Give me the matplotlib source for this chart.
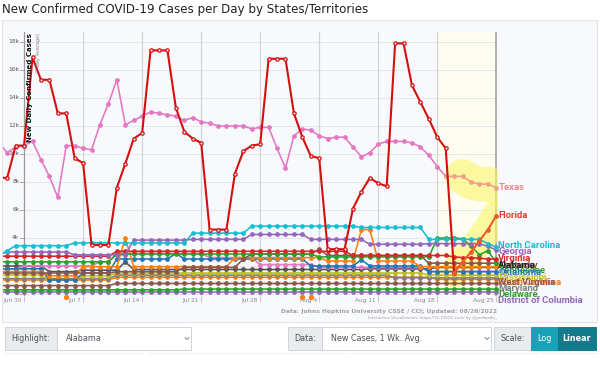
import pandas as pd
import matplotlib
matplotlib.use("Agg")
import matplotlib.pyplot as plt
import matplotlib.dates as mdates
from matplotlib.patches import Rectangle

# daily values, thousands of cases, Jun 27 .. Aug 25 2022
dates = pd.date_range("2022-06-27", "2022-08-25", freq="D")

texas = [10.8, 10.1, 10.5, 10.6, 10.9, 9.6, 8.4, 6.9, 10.6, 10.6,
         10.4, 10.3, 12.1, 13.6, 15.3, 12.1, 12.4, 12.7, 13.0, 12.9,
         12.8, 12.7, 12.4, 12.6, 12.3, 12.2, 12.0, 12.0, 12.0, 12.0,
         11.8, 11.9, 11.9, 10.4, 9.0, 11.3, 11.8, 11.7, 11.3, 11.1,
         11.2, 11.2, 10.5, 9.8, 10.1, 10.7, 10.9, 10.9, 10.9, 10.8,
         10.5, 9.9, 9.1, 8.4, 8.4, 8.4, 8.0, 7.85, 7.85, 7.6]
florida = [8.3, 8.3, 10.6, 10.6, 16.9, 15.3, 15.3, 12.9, 12.9, 9.7,
           9.35, 3.5, 3.5, 3.5, 7.6, 9.3, 11.1, 11.5, 17.4, 17.4,
           17.4, 13.3, 11.6, 11.1, 10.8, 4.6, 4.6, 4.6, 8.6, 10.2,
           10.6, 10.7, 16.8, 16.8, 16.8, 12.9, 11.2, 9.85, 9.7, 3.2,
           3.2, 3.2, 6.1, 7.3, 8.3, 7.9, 7.7, 17.9, 17.9, 14.9,
           13.7, 12.5, 11.2, 10.4, 1.5, 2.3, 3.0, 3.8, 4.6, 5.6]
north_carolina = [2.7, 3.1, 3.45, 3.45, 3.45, 3.45, 3.45, 3.45, 3.45, 3.65,
                  3.65, 3.65, 3.65, 3.65, 3.65, 3.65, 3.65, 3.65, 3.65, 3.65,
                  3.65, 3.65, 3.65, 4.35, 4.35, 4.35, 4.35, 4.35, 4.35, 4.35,
                  4.85, 4.85, 4.85, 4.85, 4.85, 4.85, 4.85, 4.85, 4.85, 4.85,
                  4.85, 4.85, 4.85, 4.75, 4.75, 4.75, 4.75, 4.75, 4.75, 4.75,
                  4.75, 3.9, 3.9, 3.9, 3.9, 3.9, 3.9, 3.9, 3.6, 3.35]
georgia = [2.9, 3.0, 3.0, 3.0, 3.0, 3.0, 3.0, 3.0, 3.0, 2.8,
           2.8, 2.8, 2.8, 2.8, 2.8, 2.8, 3.85, 3.85, 3.85, 3.85,
           3.85, 3.85, 3.85, 3.9, 3.9, 3.9, 3.9, 3.9, 3.9, 3.9,
           4.25, 4.25, 4.25, 4.25, 4.25, 4.25, 4.25, 3.9, 3.9, 3.9,
           3.9, 3.9, 3.9, 3.9, 3.55, 3.55, 3.55, 3.55, 3.55, 3.55,
           3.55, 3.6, 3.6, 3.6, 3.6, 3.6, 3.6, 3.6, 3.4, 3.15]
virginia = [2.7, 2.7, 2.7, 2.7, 2.7, 2.7, 2.7, 2.7, 2.7, 2.7,
            2.7, 2.7, 2.7, 2.7, 3.05, 3.05, 3.05, 3.05, 3.05, 3.05,
            3.05, 3.05, 3.05, 3.05, 3.05, 3.05, 3.05, 3.05, 3.05, 3.05,
            3.05, 3.05, 3.05, 3.05, 3.05, 3.05, 3.05, 3.05, 3.05, 3.05,
            3.05, 3.05, 2.75, 2.75, 2.75, 2.75, 2.75, 2.75, 2.75, 2.75,
            2.75, 2.75, 2.75, 2.75, 2.65, 2.6, 2.6, 2.55, 2.5, 2.5]
tennessee = [2.3, 2.3, 2.3, 2.3, 2.3, 2.3, 2.3, 2.3, 2.3, 2.3,
             2.3, 2.3, 2.3, 2.3, 2.85, 2.85, 2.85, 2.85, 2.85, 2.85,
             2.85, 2.85, 2.85, 2.85, 2.85, 2.85, 2.85, 2.85, 2.85, 2.85,
             2.85, 2.85, 2.85, 2.85, 2.85, 2.85, 2.85, 2.85, 2.65, 2.65,
             2.65, 2.65, 2.65, 2.65, 2.65, 2.65, 2.65, 2.65, 2.65, 2.65,
             2.65, 2.65, 4.0, 4.0, 4.0, 3.95, 3.4, 2.8, 3.1, 2.2]
kentucky = [1.5, 1.5, 1.5, 1.5, 1.5, 1.5, 1.5, 1.5, 1.5, 1.5,
            1.5, 1.5, 1.5, 1.5, 1.6, 1.6, 1.6, 1.6, 1.6, 1.6,
            1.6, 1.6, 1.9, 1.9, 1.9, 1.9, 1.9, 1.9, 1.9, 2.5,
            2.85, 2.85, 2.85, 2.85, 2.85, 2.85, 2.85, 2.85, 3.2, 2.75,
            2.75, 2.75, 2.75, 2.75, 2.75, 2.75, 2.75, 2.75, 2.75, 2.75,
            2.75, 2.2, 2.2, 2.2, 2.2, 2.2, 2.2, 2.2, 2.2, 2.2]
alabama = [2.0, 2.0, 2.0, 2.0, 2.0, 2.0, 1.6, 1.6, 1.6, 1.6,
           1.7, 1.7, 1.7, 1.7, 1.7, 2.3, 1.75, 1.75, 1.75, 1.75,
           1.75, 1.75, 1.75, 1.75, 1.75, 1.75, 1.75, 1.75, 1.75, 1.75,
           1.75, 1.75, 1.75, 1.75, 1.75, 1.75, 1.75, 1.75, 1.75, 1.75,
           1.75, 1.75, 1.75, 1.75, 1.8, 1.8, 1.8, 1.8, 1.8, 1.8,
           1.8, 1.8, 1.9, 1.9, 1.9, 1.9, 1.9, 1.9, 1.9, 1.9]
oklahoma = [1.8, 1.8, 1.8, 1.8, 1.8, 1.8, 1.0, 1.0, 1.0, 1.0,
            1.5, 1.5, 1.5, 1.5, 2.5, 2.5, 2.5, 2.5, 2.5, 2.5,
            2.5, 2.9, 2.5, 2.5, 2.5, 2.5, 2.5, 2.5, 2.5, 2.5,
            2.5, 2.5, 2.5, 2.5, 2.5, 2.5, 2.5, 2.0, 2.0, 2.0,
            2.0, 2.0, 2.0, 2.45, 2.0, 2.0, 2.0, 2.0, 2.0, 2.0,
            2.0, 1.6, 1.6, 1.6, 1.6, 1.6, 1.6, 1.6, 1.6, 1.6]
louisiana = [1.8, 1.8, 1.8, 2.0, 2.0, 2.0, 2.0, 2.0, 2.0, 2.0,
             2.0, 2.0, 2.3, 2.3, 2.9, 2.9, 2.9, 2.9, 2.9, 2.9,
             2.9, 2.9, 2.9, 2.9, 2.9, 2.6, 2.6, 2.6, 2.6, 2.6,
             2.6, 2.1, 2.1, 2.1, 2.1, 2.1, 2.1, 2.1, 1.9, 1.9,
             1.9, 1.9, 1.9, 1.9, 1.9, 1.9, 1.9, 1.9, 1.9, 1.9,
             1.9, 1.6, 1.6, 1.6, 1.6, 1.6, 1.6, 1.6, 1.6, 1.6]
south_carolina = [1.6, 1.6, 1.6, 1.6, 1.6, 1.6, 1.3, 1.3, 1.3, 1.3,
                  1.95, 1.95, 1.95, 1.95, 1.95, 4.0, 1.95, 1.95, 1.95, 1.95,
                  1.95, 1.95, 1.95, 1.95, 1.95, 1.95, 1.95, 1.95, 2.6, 2.6,
                  2.6, 2.6, 2.6, 2.6, 2.6, 2.6, 2.6, 2.6, 2.6, 2.35,
                  2.35, 2.35, 2.35, 4.6, 4.6, 2.35, 2.35, 2.35, 2.35, 2.35,
                  1.95, 1.95, 1.95, 1.95, 1.95, 1.95, 1.95, 1.95, 1.95, 1.95]
arkansas = [1.0, 1.0, 1.0, 1.0, 1.0, 1.0, 1.0, 1.0, 1.0, 1.0,
            1.0, 1.0, 1.0, 1.0, 1.2, 1.2, 1.2, 1.2, 1.2, 1.2,
            1.2, 1.2, 1.2, 1.2, 1.2, 1.2, 1.2, 1.2, 1.2, 1.2,
            1.2, 1.2, 1.2, 1.2, 1.2, 1.2, 1.2, 1.2, 1.2, 1.2,
            1.2, 1.2, 1.2, 1.2, 1.2, 1.2, 1.2, 1.2, 1.2, 1.2,
            1.2, 1.2, 1.05, 1.05, 1.05, 1.05, 1.05, 1.05, 1.05, 1.05]
mississippi = [1.35, 1.35, 1.35, 1.35, 1.35, 1.35, 1.0, 1.0, 1.0, 1.0,
               1.3, 1.3, 1.3, 1.3, 1.5, 1.5, 1.5, 1.5, 1.5, 1.5,
               1.5, 1.5, 1.5, 1.5, 1.5, 1.5, 1.5, 1.5, 1.5, 1.5,
               1.5, 1.5, 1.5, 1.5, 1.5, 1.5, 1.5, 1.5, 1.5, 1.5,
               1.5, 1.5, 1.5, 1.5, 1.5, 1.5, 1.5, 1.5, 1.5, 1.5,
               1.5, 1.35, 1.35, 1.35, 1.35, 1.35, 1.35, 1.35, 1.35, 1.35]
maryland = [1.1, 1.1, 1.1, 1.1, 1.1, 1.1, 1.1, 1.1, 1.1, 1.1,
            1.1, 1.1, 1.1, 1.1, 1.35, 1.35, 1.35, 1.35, 1.35, 1.35,
            1.35, 1.35, 1.35, 1.35, 1.35, 1.35, 1.35, 1.35, 1.35, 1.35,
            1.35, 1.35, 1.35, 1.35, 1.35, 1.35, 1.35, 1.35, 1.35, 1.35,
            1.35, 1.35, 1.35, 1.35, 1.35, 1.35, 1.35, 1.15, 1.15, 1.15,
            1.15, 1.15, 1.15, 1.15, 1.15, 1.15, 1.15, 1.15, 1.15, 1.15]
west_virginia = [0.6, 0.6, 0.6, 0.6, 0.6, 0.6, 0.6, 0.6, 0.6, 0.6,
                 0.6, 0.6, 0.6, 0.6, 0.75, 0.75, 0.75, 0.75, 0.75, 0.75,
                 0.75, 0.75, 0.75, 0.75, 0.75, 0.75, 0.75, 0.75, 0.75, 0.75,
                 0.75, 0.75, 0.75, 0.75, 0.75, 0.75, 0.75, 0.75, 0.75, 0.75,
                 0.75, 0.75, 0.75, 0.75, 0.75, 0.75, 0.75, 0.75, 0.75, 0.75,
                 0.75, 0.75, 0.75, 0.75, 0.75, 0.75, 0.75, 0.75, 0.75, 0.75]
delaware = [0.3, 0.3, 0.3, 0.3, 0.3, 0.3, 0.3, 0.3, 0.3, 0.3,
            0.3, 0.3, 0.3, 0.3, 0.3, 0.3, 0.3, 0.3, 0.3, 0.3,
            0.3, 0.3, 0.35, 0.35, 0.35, 0.35, 0.35, 0.35, 0.35, 0.35,
            0.35, 0.35, 0.35, 0.35, 0.35, 0.35, 0.35, 0.35, 0.35, 0.35,
            0.35, 0.35, 0.35, 0.35, 0.35, 0.35, 0.35, 0.35, 0.35, 0.35,
            0.35, 0.35, 0.35, 0.35, 0.35, 0.35, 0.35, 0.35, 0.35, 0.35]
dc = [0.15, 0.15, 0.15, 0.15, 0.15, 0.15, 0.15, 0.15, 0.15, 0.15,
      0.15, 0.15, 0.15, 0.15, 0.15, 0.15, 0.15, 0.15, 0.15, 0.15,
      0.15, 0.15, 0.15, 0.15, 0.15, 0.15, 0.15, 0.15, 0.15, 0.15,
      0.15, 0.15, 0.15, 0.15, 0.15, 0.15, 0.15, 0.15, 0.15, 0.15,
      0.15, 0.15, 0.15, 0.15, 0.15, 0.15, 0.15, 0.15, 0.15, 0.15,
      0.15, 0.15, 0.15, 0.15, 0.15, 0.15, 0.15, 0.15, 0.15, 0.15]

# days reported below zero (drawn at the bottom edge)
neg_days = pd.to_datetime(["2022-07-05", "2022-08-02", "2022-08-03"])
neg_vals = [-0.25, -0.25, -0.25]

lower = [
    ("District of Columbia", dc, "#9467bd"),
    ("Delaware", delaware, "#2ca02c"),
    ("West Virginia", west_virginia, "#8c564b"),
    ("Arkansas", arkansas, "#ff7f0e"),
    ("Maryland", maryland, "#7f7f7f"),
    ("Mississippi", mississippi, "#bcbd22"),
    ("Alabama", alabama, "#555555"),
    ("Louisiana", louisiana, "#e377c2"),
    ("Oklahoma", oklahoma, "#1f77b4"),
    ("South Carolina", south_carolina, "#ff7f0e"),
    ("Kentucky", kentucky, "#8c564b"),
    ("Tennessee", tennessee, "#2ca02c"),
    ("Virginia", virginia, "#d62728"),
    ("Georgia", georgia, "#9467bd"),
    ("North Carolina", north_carolina, "#17becf"),
]

# where the end labels sit (thousands), stacked like the page does
label_y = {"Texas": 7.6, "Florida": 5.6, "North Carolina": 3.45, "Georgia": 3.0,
           "Virginia": 2.5, "Kentucky": 2.07, "Alabama": 2.07, "Tennessee": 1.7,
           "Oklahoma": 1.5, "Mississippi": 1.15, "South Carolina": 0.8,
           "West Virginia": 0.8, "Maryland": 0.36, "Delaware": -0.07,
           "District of Columbia": -0.5}

week_ticks = pd.date_range("2022-06-30", "2022-08-25", freq="7D")
week_labels = ["Jun 30", "Jul 7", "Jul 14", "Jul 21", "Jul 28", "Aug 4", "Aug 11", "Aug 18", "Aug 25"]
y_ticks = [0, 2, 4, 6, 8, 10, 12, 14, 16, 18]

xd = mdates.date2num(dates)
wk = mdates.date2num(week_ticks)

fig = plt.figure(figsize=(6, 3.86), dpi=100)
ui = fig.add_axes([0, 0, 1, 1], zorder=0)
ui.set_xlim(0, 600)
ui.set_ylim(386, 0)
ui.axis("off")

ui.text(2, 9.5, "New Confirmed COVID-19 Cases per Day by States/Territories",
        fontsize=8.6, color="#222222", va="center", ha="left")
ui.add_patch(Rectangle((2, 20), 595, 302, fc="#f8f9fc", ec="#e3e4ea", lw=0.8))

ax = fig.add_axes([3 / 600, 90 / 386, 495 / 600, 264 / 386], zorder=1)
ax.patch.set_alpha(0)
ax.set_xlim(xd[1] - 0.5, xd[1] + 58.2)
ax.set_ylim(-0.143, 18.714)
for s in ax.spines.values():
    s.set_visible(False)
ax.set_yticks([])
ax.set_xticks(wk)
ax.tick_params(axis="x", direction="out", length=4, color="#c8c8c8", labelbottom=False)

ax.axvspan(wk[-2], wk[-1], color="#fdfdf1", zorder=0)
for v in y_ticks:
    ax.plot([wk[0], wk[-1]], [v, v], color="#e6e7ee", lw=0.7, zorder=0.5)
    ax.plot([wk[0] - 0.45, wk[0]], [v, v], color="#999999", lw=0.6, zorder=0.5)
    ax.text(wk[0] - 0.55, v, "0" if v == 0 else f"{v}k", fontsize=4.3, color="#555555",
            ha="right", va="center")
for x in wk[1:-1]:
    ax.axvline(x, color="#d2d3d8", lw=0.9, zorder=0.5)
ax.axvline(wk[0], color="#9a9a9a", lw=0.9, zorder=0.6)
ax.axvline(wk[-1], color="#9a9a9a", lw=1.1, zorder=0.6)
for x, lab in zip(wk, week_labels):
    ax.text(x - 0.3, -0.45, lab, fontsize=4.2, color="#888888", ha="right", va="center",
            clip_on=False)

ax.text(0.055, 0.995, "New Daily Confirmed Cases", transform=ax.transAxes, rotation=90,
        fontsize=5.0, fontweight="bold", color="#111111", ha="center", va="top", zorder=6)
ax.text(0.071, 0.995, "(7-day Average)", transform=ax.transAxes, rotation=90,
        fontsize=3.6, color="#888888", ha="center", va="top", zorder=6)

# yellow highlight strokes
ax.plot(xd[55:], texas[55:], color="#fbf66a", alpha=0.6, lw=25, solid_capstyle="round",
        zorder=1)
ax.plot(xd[54:], florida[54:], color="#fbf66a", alpha=0.6, lw=21, solid_capstyle="round",
        zorder=1)

mk = dict(marker="o", markersize=2.4, lw=1.15)
for name, vals, col in lower:
    ax.plot(xd, vals, color=col, zorder=2, **mk)
ax.plot(neg_days, neg_vals, "o", color="#ff7f0e", markersize=2.8, clip_on=False, zorder=2)

ax.plot(xd[:54], texas[:54], color="#e377c2", zorder=3, **mk)
ax.plot(xd[53:], texas[53:], color="#f0a08a", zorder=3, **mk)
ax.plot(xd[:55], florida[:55], color="#d40f0f", zorder=4, marker="o", markersize=2.4,
        lw=1.5, mfc="#f2f2f2", mew=0.9)
ax.plot(xd[54:], florida[54:], color="#ee5a28", zorder=4, marker="o", markersize=2.4, lw=1.5)

label_col = {name: col for name, vals, col in lower}
label_col["Texas"] = "#e98a8e"
label_col["Florida"] = "#e0402a"
label_col["Alabama"] = "#222222"
for name, yv in label_y.items():
    ax.text(xd[-1] + 0.25, yv, name, fontsize=6.8, fontweight="bold", family="Roboto",
            color=label_col[name], ha="left", va="center", clip_on=False, zorder=7)

ui.text(497, 311.5, "Data: Johns Hopkins University CSSE / CCI; Updated: 08/26/2022",
        fontsize=4.3, color="#a0a0a0", ha="right", va="center", fontweight="bold")
ui.text(497, 318.5, "Interactive Visualization: https://91-DIVOC.com/ by @profwade_",
        fontsize=2.9, color="#a0a0a0", ha="right", va="center")

# controls under the chart
def box(x0, x1, fc, ec="#ced4da"):
    ui.add_patch(Rectangle((x0, 327), x1 - x0, 23, fc=fc, ec=ec, lw=0.7))

def chevron(xc):
    ui.plot([xc - 2, xc, xc + 2], [337.5, 339.5, 337.5], color="#777777", lw=0.6)

for x0, x1 in [(5, 143), (148, 344), (348, 538), (542, 596)]:
    ui.plot([x0, x1], [352.5, 352.5], color="#eeeeee", lw=0.6)

box(5, 57, "#e9ecef")
box(57, 191, "white")
box(288, 322, "#e9ecef")
box(322, 491, "white")
box(494, 531, "#e9ecef")
box(531, 558, "#17a2b8", ec="#17a2b8")
box(558, 596, "#117a8b", ec="#117a8b")
ctl = dict(fontsize=5.8, va="center", color="#495057")
ui.text(31, 338.5, "Highlight:", ha="center", **ctl)
ui.text(66, 338.5, "Alabama", ha="left", **ctl)
chevron(187)
ui.text(305, 338.5, "Data:", ha="center", **ctl)
ui.text(331, 338.5, "New Cases, 1 Wk. Avg.", ha="left", **ctl)
chevron(487)
ui.text(512.5, 338.5, "Scale:", ha="center", **ctl)
ui.text(544.5, 338.5, "Log", ha="center", fontsize=5.8, va="center", color="white")
ui.text(577, 338.5, "Linear", ha="center", fontsize=5.8, va="center", color="white",
        fontweight="bold")

fig.savefig("out.png", dpi=100)
